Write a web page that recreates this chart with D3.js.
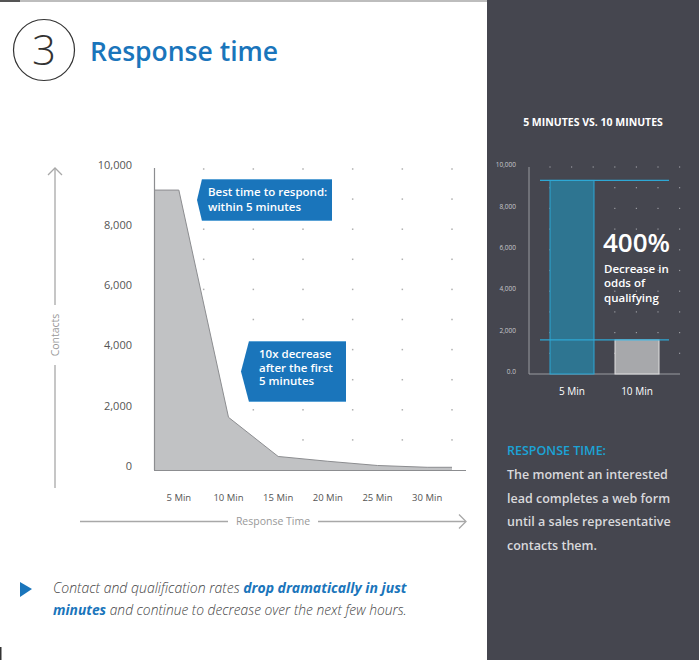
<!DOCTYPE html>
<html>
<head>
<meta charset="utf-8">
<script src="https://cdn.jsdelivr.net/npm/d3@7"></script>
<style>
  body { margin: 0; background: #fff; }
  svg { display: block; font-family: "Open Sans", "Noto Sans", sans-serif; }
</style>
</head>
<body>
<div id="chart"></div>
<script>
// main chart data
var minutes = [5, 10, 15, 20, 25, 30];
var minuteLabels = ['5 Min', '10 Min', '15 Min', '20 Min', '25 Min', '30 Min'];
var contacts = [9300, 1750, 450, 290, 150, 90];
var yTicks = [0, 2000, 4000, 6000, 8000, 10000];

// side chart data
var compareLabels = ['5 Min', '10 Min'];
var compareValues = [9350, 1650];
var compareTicks = [0, 2000, 4000, 6000, 8000, 10000];

var blue = '#1a75bb';

var svg = d3.select('#chart').append('svg')
    .attr('width', 699).attr('height', 660);

// top rule + right panel
svg.append('rect').attr('x', 0).attr('y', 0).attr('width', 699).attr('height', 2).style('fill', '#bdbdbd');
svg.append('rect').attr('x', 0).attr('y', 0).attr('width', 20).attr('height', 2).style('fill', '#555');
svg.append('rect').attr('x', 487).attr('y', 0).attr('width', 212).attr('height', 660).style('fill', '#45464f');
svg.append('rect').attr('x', 0).attr('y', 647).attr('width', 1.5).attr('height', 13).style('fill', '#333');

// title
svg.append('circle').attr('cx', 44).attr('cy', 50).attr('r', 30.5)
    .style('fill', 'none').style('stroke', '#333').style('stroke-width', 1.2);
svg.append('text').attr('x', 44).attr('y', 65).attr('text-anchor', 'middle')
    .style('font-size', '42px').style('font-weight', 300).style('fill', '#333').text('3');
svg.append('text').attr('x', 90).attr('y', 61)
    .style('font-size', '26.5px').style('font-weight', 600).style('fill', blue).text('Response time');

// ---- main area chart ----
var x = d3.scaleLinear().domain([2.5, 32.5]).range([154, 452]);
var y = d3.scaleLinear().domain([0, 10000]).range([470, 169]);

var g = svg.append('g');

// dot grid
var gridX = d3.range(7.5, 33, 5);
var gridY = d3.range(1000, 10001, 1000);
gridX.forEach(function(gx) {
    g.selectAll(null).data(gridY).enter().append('rect')
        .attr('x', x(gx) - 0.75).attr('y', function(d) { return y(d) - 0.75; })
        .attr('width', 1.5).attr('height', 1.5).style('fill', '#b0b0b0');
});

var pts = minutes.map(function(m, i) { return [m, contacts[i]]; });
pts.unshift([x.domain()[0], contacts[0]]);
pts.push([x.domain()[1], contacts[contacts.length - 1]]);

var area = d3.area().x(function(d) { return x(d[0]); }).y0(y(0)).y1(function(d) { return y(d[1]); });
var line = d3.line().x(function(d) { return x(d[0]); }).y(function(d) { return y(d[1]); });

g.append('path').datum(pts).attr('d', area).style('fill', '#c1c2c4');
g.append('path').datum(pts).attr('d', line).style('fill', 'none').style('stroke', '#8c8d90').style('stroke-width', 1);

// axes lines
g.append('line').attr('x1', 154.5).attr('x2', 154.5).attr('y1', 168).attr('y2', y(0))
    .style('stroke', '#8c8d90').style('stroke-width', 1.2);
g.append('line').attr('x1', 154).attr('x2', 466).attr('y1', y(0) + 0.5).attr('y2', y(0) + 0.5)
    .style('stroke', '#8c8d90').style('stroke-width', 1.2);

// y tick labels
g.selectAll('.ylab').data(yTicks).enter().append('text')
    .attr('x', 132).attr('y', function(d) { return y(d) - 4; })
    .attr('dy', '0.35em').attr('text-anchor', 'end')
    .style('font-size', '11px').style('fill', '#555')
    .text(function(d) { return d === 0 ? '0' : d3.format(',')(d); });

// x tick labels
g.selectAll('.xlab').data(minutes).enter().append('text')
    .attr('x', function(d) { return x(d); }).attr('y', 498)
    .attr('dy', '0.35em').attr('text-anchor', 'middle')
    .style('font-size', '9.5px').style('fill', '#555')
    .text(function(d, i) { return minuteLabels[i]; });

// axis arrows
var arrowCol = '#a8a8a8';
g.append('line').attr('x1', 55).attr('x2', 55).attr('y1', 169).attr('y2', 305).style('stroke', arrowCol).style('stroke-width', 1.3);
g.append('line').attr('x1', 55).attr('x2', 55).attr('y1', 365).attr('y2', 488).style('stroke', arrowCol).style('stroke-width', 1.3);
g.append('path').attr('d', 'M48,175 L55,168 L62,175').style('fill', 'none').style('stroke', arrowCol).style('stroke-width', 1.3);
g.append('text').attr('transform', 'translate(59,335) rotate(-90)').attr('text-anchor', 'middle')
    .style('font-size', '10.5px').style('fill', '#999').text('Contacts');

g.append('line').attr('x1', 80).attr('x2', 228).attr('y1', 521.5).attr('y2', 521.5).style('stroke', arrowCol).style('stroke-width', 1.3);
g.append('line').attr('x1', 318).attr('x2', 465).attr('y1', 521.5).attr('y2', 521.5).style('stroke', arrowCol).style('stroke-width', 1.3);
g.append('path').attr('d', 'M459,514.5 L466,521.5 L459,528.5').style('fill', 'none').style('stroke', arrowCol).style('stroke-width', 1.3);
g.append('text').attr('x', 273).attr('y', 525).attr('text-anchor', 'middle')
    .style('font-size', '10.5px').style('fill', '#999').text('Response Time');

// callouts
function callout(x0, y0, x1, y1, tip, lines, lh, pad) {
    var mid = (y0 + y1) / 2;
    g.append('path')
        .attr('d', 'M' + tip + ',' + mid + ' L' + x0 + ',' + y0 + ' L' + x1 + ',' + y0 + ' L' + x1 + ',' + y1 + ' L' + x0 + ',' + y1 + ' Z')
        .style('fill', blue);
    g.append('line').attr('x1', x0).attr('x2', x1).attr('y1', y0 + 0.5).attr('y2', y0 + 0.5).style('stroke', '#5aa2d6');
    g.append('line').attr('x1', x0).attr('x2', x1).attr('y1', y1 - 0.5).attr('y2', y1 - 0.5).style('stroke', '#5aa2d6');
    g.selectAll(null).data(lines).enter().append('text')
        .attr('x', x0 + pad).attr('y', function(d, i) { return y0 + 17 + i * lh; })
        .style('font-size', '11.5px').style('font-weight', 600).style('fill', '#fff')
        .text(function(d) { return d; });
}
callout(202, 179, 332, 221, 197, ['Best time to respond:', 'within 5 minutes'], 15, 6);
callout(249, 341, 346, 402, 241, ['10x decrease', 'after the first', '5 minutes'], 13.5, 10);

// bottom note
svg.append('path').attr('d', 'M20,582 L32,589 L20,597 Z').style('fill', blue);
var note = svg.append('text').attr('x', 53).attr('y', 593)
    .style('font-size', '14px').style('font-style', 'italic').style('fill', '#444');
note.append('tspan').style('font-weight', 300).text('Contact and qualification rates ');
note.append('tspan').style('font-weight', 700).style('fill', blue).text('drop dramatically in just');
var note2 = svg.append('text').attr('x', 53).attr('y', 615)
    .style('font-size', '13.8px').style('font-style', 'italic').style('fill', '#444');
note2.append('tspan').style('font-weight', 700).style('fill', blue).text('minutes');
note2.append('tspan').style('font-weight', 300).text(' and continue to decrease over the next few hours.');

// ---- side bar chart ----
var sx = d3.scaleBand().domain(compareLabels).range([529, 680]).paddingInner(0.323).paddingOuter(0.323);
var sy = d3.scaleLinear().domain([0, 10000]).range([374, 167]);
var s = svg.append('g');

s.append('text').attr('x', 593).attr('y', 126).attr('text-anchor', 'middle')
    .style('font-size', '10.5px').style('font-weight', 700).style('fill', '#fff').text('5 MINUTES VS. 10 MINUTES');

// dots
var sgx = d3.range(0, 7).map(function(i) { return 550 + i * 21.6; });
var sgy = d3.range(1000, 10001, 1000);
sgx.forEach(function(gx) {
    s.selectAll(null).data(sgy).enter().append('rect')
        .attr('x', gx - 0.6).attr('y', function(d) { return sy(d) - 0.6; })
        .attr('width', 1.2).attr('height', 1.2).style('fill', '#9a9ba1');
});

s.append('line').attr('x1', 529).attr('x2', 529).attr('y1', 167).attr('y2', 374).style('stroke', '#9a9ba1');
s.append('line').attr('x1', 529).attr('x2', 680).attr('y1', 374).attr('y2', 374).style('stroke', '#9a9ba1');

s.selectAll('.sy').data(compareTicks).enter().append('text')
    .attr('x', 516).attr('y', function(d) { return sy(d) - 2; }).attr('dy', '0.35em').attr('text-anchor', 'end')
    .style('font-size', '6.5px').style('fill', '#c8c8cc')
    .text(function(d) { return d === 0 ? '0.0' : d3.format(',')(d); });

s.selectAll('.bar').data(compareValues).enter().append('rect')
    .attr('x', function(d, i) { return sx(compareLabels[i]); })
    .attr('y', function(d) { return sy(d); })
    .attr('width', sx.bandwidth())
    .attr('height', function(d) { return sy(0) - sy(d); })
    .style('fill', function(d, i) { return i === 0 ? '#2e7591' : '#a7a8ab'; })
    .style('stroke', function(d, i) { return i === 0 ? '#2ea8d5' : '#e0e0e0'; })
    .style('stroke-width', 1);

s.selectAll('.ref').data(compareValues).enter().append('line')
    .attr('x1', 540).attr('x2', 669)
    .attr('y1', function(d) { return sy(d); }).attr('y2', function(d) { return sy(d); })
    .style('stroke', '#2ea8d5').style('stroke-width', 1.2);

s.selectAll('.sx').data(compareLabels).enter().append('text')
    .attr('x', function(d) { return sx(d) + sx.bandwidth() / 2; }).attr('y', 391).attr('dy', '0.35em')
    .attr('text-anchor', 'middle').style('font-size', '10px').style('fill', '#fff')
    .text(function(d) { return d; });

s.append('text').attr('x', 603).attr('y', 252)
    .style('font-size', '26px').style('font-weight', 600).style('fill', '#fff').text('400%');
s.selectAll('.dec').data(['Decrease in', 'odds of', 'qualifying']).enter().append('text')
    .attr('x', 604).attr('y', function(d, i) { return 272.5 + i * 14.5; })
    .style('font-size', '11.5px').style('font-weight', 600).style('fill', '#fff')
    .text(function(d) { return d; });

// definition text
s.append('text').attr('x', 507).attr('y', 455)
    .style('font-size', '12.5px').style('font-weight', 600).style('fill', '#1ba3d6').text('RESPONSE TIME:');
s.selectAll('.def').data(['The moment an interested', 'lead completes a web form', 'until a sales representative', 'contacts them.'])
    .enter().append('text')
    .attr('x', 507).attr('y', function(d, i) { return 479 + i * 23.5; })
    .style('font-size', '12.5px').style('font-weight', 600).style('fill', '#d9d9dc')
    .text(function(d) { return d; });
</script>
</body>
</html>
